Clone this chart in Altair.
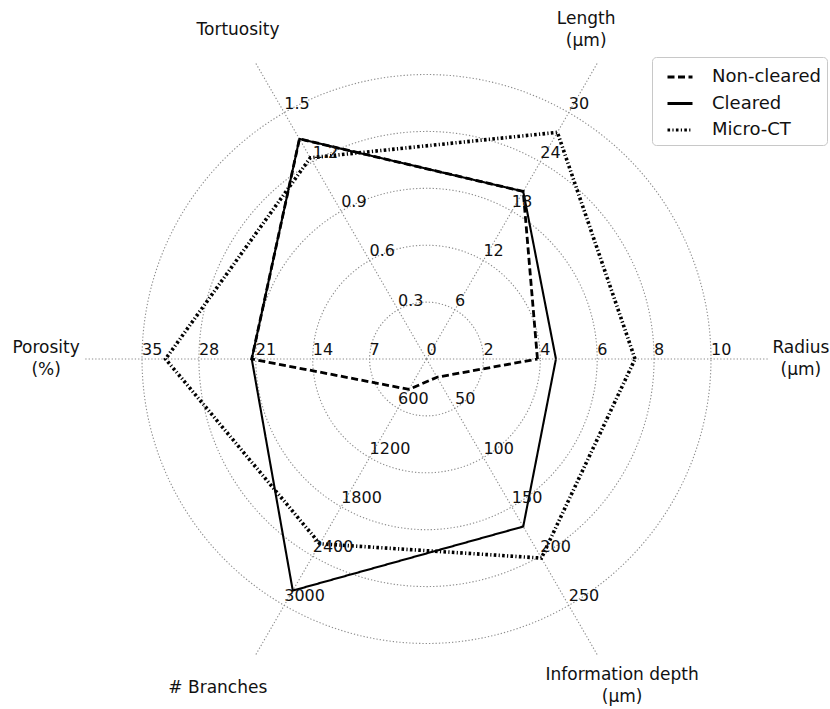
import altair as alt
import numpy as np
import pandas as pd

# ---- data -------------------------------------------------------------
axis_labels = ["Radius\n(μm)", "Length\n(μm)", "Tortuosity", "Porosity\n(%)",
               "# Branches", "Information depth\n(μm)"]
axis_angles = [0, 60, 120, 180, 240, 300]
axis_max = [10, 30, 1.5, 35, 3000, 250]
tick_labels = [
    ["2", "4", "6", "8", "10"],
    ["6", "12", "18", "24", "30"],
    ["0.3", "0.6", "0.9", "1.2", "1.5"],
    ["7", "14", "21", "28", "35"],
    ["600", "1200", "1800", "2400", "3000"],
    ["50", "100", "150", "200", "250"],
]
series_names = ["Non-cleared", "Cleared", "Micro-CT"]
non_cleared = [3.9, 20.4, 1.34, 21.5, 370, 18.5]
cleared = [4.55, 20.4, 1.34, 21.5, 2820, 170]
micro_ct = [7.33, 27.6, 1.225, 32.1, 2250, 202]

# ---- layout -----------------------------------------------------------
W, H = 830, 709
center_px = (426.5, 359.0)
px_per_unit = 284.5
spoke_len = 1.2
ring_levels = [0.2, 0.4, 0.6, 0.8, 1.0]
# (radius, angle) where each axis title block is centred
label_pos = [(1.316, 0), (1.285, 64.1), (1.333, 119.8), (1.337, 180),
             (1.369, 237.6), (1.339, 300.9)]
FONT = "DejaVu Sans"
LINE_H = 22

x_dom = [-center_px[0] / px_per_unit, (W - center_px[0]) / px_per_unit]
y_dom = [-(H - center_px[1]) / px_per_unit, center_px[1] / px_per_unit]
X = alt.X("x:Q", scale=alt.Scale(domain=x_dom, nice=False, zero=False), axis=None)
Y = alt.Y("y:Q", scale=alt.Scale(domain=y_dom, nice=False, zero=False), axis=None)

grid_style = dict(color="#8c8c8c", strokeWidth=1.1, strokeDash=[1.3, 2.0])

# circular grid rings
theta = np.linspace(0, 2 * np.pi, 241)
rings = pd.concat([
    pd.DataFrame({"ring": r, "i": np.arange(theta.size),
                  "x": r * np.cos(theta), "y": r * np.sin(theta)})
    for r in ring_levels
])
ring_layer = alt.Chart(rings).mark_line(**grid_style).encode(
    x=X, y=Y, detail="ring:N", order="i:Q")

# spokes
spokes = pd.DataFrame([
    {"axis": k, "i": j, "r": j * spoke_len, "angle": a}
    for k, a in enumerate(axis_angles) for j in (0, 1)
])
spoke_layer = alt.Chart(spokes).transform_calculate(
    x="datum.r * cos(datum.angle * PI / 180)",
    y="datum.r * sin(datum.angle * PI / 180)",
).mark_line(**grid_style).encode(x=X, y=Y, detail="axis:N", order="i:Q")

# tick labels along every spoke, plus the shared zero at the centre
ticks = pd.DataFrame(
    [{"label": "0", "value": 0.0, "max": 1.0, "angle": 0}] +
    [{"label": t, "value": float(t), "max": m, "angle": a}
     for labs, m, a in zip(tick_labels, axis_max, axis_angles) for t in labs]
)
tick_layer = alt.Chart(ticks).transform_calculate(
    x="datum.value / datum.max * cos(datum.angle * PI / 180)",
    y="datum.value / datum.max * sin(datum.angle * PI / 180)",
).mark_text(align="left", baseline="alphabetic", dy=-4, fontSize=16,
            font=FONT, color="#111111").encode(x=X, y=Y, text="label:N")

# axis titles: one-line and two-line blocks are centred on their anchor
titles = pd.DataFrame({
    "label": axis_labels,
    "lines": [lab.count("\n") + 1 for lab in axis_labels],
    "r": [p[0] for p in label_pos],
    "angle": [p[1] for p in label_pos],
})
title_base = alt.Chart(titles).transform_calculate(
    x="datum.r * cos(datum.angle * PI / 180)",
    y="datum.r * sin(datum.angle * PI / 180)",
)
title_style = dict(align="center", baseline="middle", fontSize=17, font=FONT,
                   lineBreak="\n", lineHeight=LINE_H, color="#111111")
title_one = title_base.transform_filter("datum.lines == 1").mark_text(
    **title_style).encode(x=X, y=Y, text="label:N")
title_two = title_base.transform_filter("datum.lines == 2").mark_text(
    dy=-LINE_H / 2, **title_style).encode(x=X, y=Y, text="label:N")

# the three closed profiles
series_values = {"Non-cleared": non_cleared, "Cleared": cleared,
                 "Micro-CT": micro_ct}
rows = []
for name in series_names:
    vals = series_values[name]
    for i in range(len(axis_angles) + 1):
        k = i % len(axis_angles)
        rows.append({"series": name, "i": i, "value": vals[k],
                     "max": axis_max[k], "angle": axis_angles[k]})
profiles = pd.DataFrame(rows)

dash_scale = alt.Scale(domain=series_names,
                       range=[[7, 3.5], [1, 0], [2.6, 2.3, 1.2, 2.3]])
line_widths = {"Cleared": 2.1, "Non-cleared": 2.8, "Micro-CT": 3.6}
legend = alt.Legend(
    title=None, orient="none", legendX=652, legendY=57,
    symbolType="stroke", symbolSize=625, symbolStrokeWidth=2.8,
    symbolStrokeColor="black", symbolOffset=8, labelFont=FONT,
    labelFontSize=18, labelColor="#111111", labelOffset=18, rowPadding=3.5,
    padding=6, strokeColor="#c8c8c8", fillColor="white", cornerRadius=4)

profile_base = alt.Chart(profiles).transform_calculate(
    x="datum.value / datum.max * cos(datum.angle * PI / 180)",
    y="datum.value / datum.max * sin(datum.angle * PI / 180)",
)
profile_layers = [
    profile_base.transform_filter(alt.datum.series == name).mark_line(
        color="black", strokeJoin="miter", strokeWidth=line_widths[name]
    ).encode(
        x=X, y=Y, order="i:Q",
        strokeDash=alt.StrokeDash("series:N", scale=dash_scale, legend=legend,
                                  sort=series_names),
    )
    for name in ["Cleared", "Non-cleared", "Micro-CT"]
]

chart = alt.layer(
    ring_layer, spoke_layer, *profile_layers, tick_layer, title_one, title_two
).properties(
    width=W, height=H, autosize=alt.AutoSizeParams(type="none"), padding=0,
    background="white",
).configure_view(stroke=None)

chart.save("out.html", embed_options={"renderer": "svg", "actions": False})
